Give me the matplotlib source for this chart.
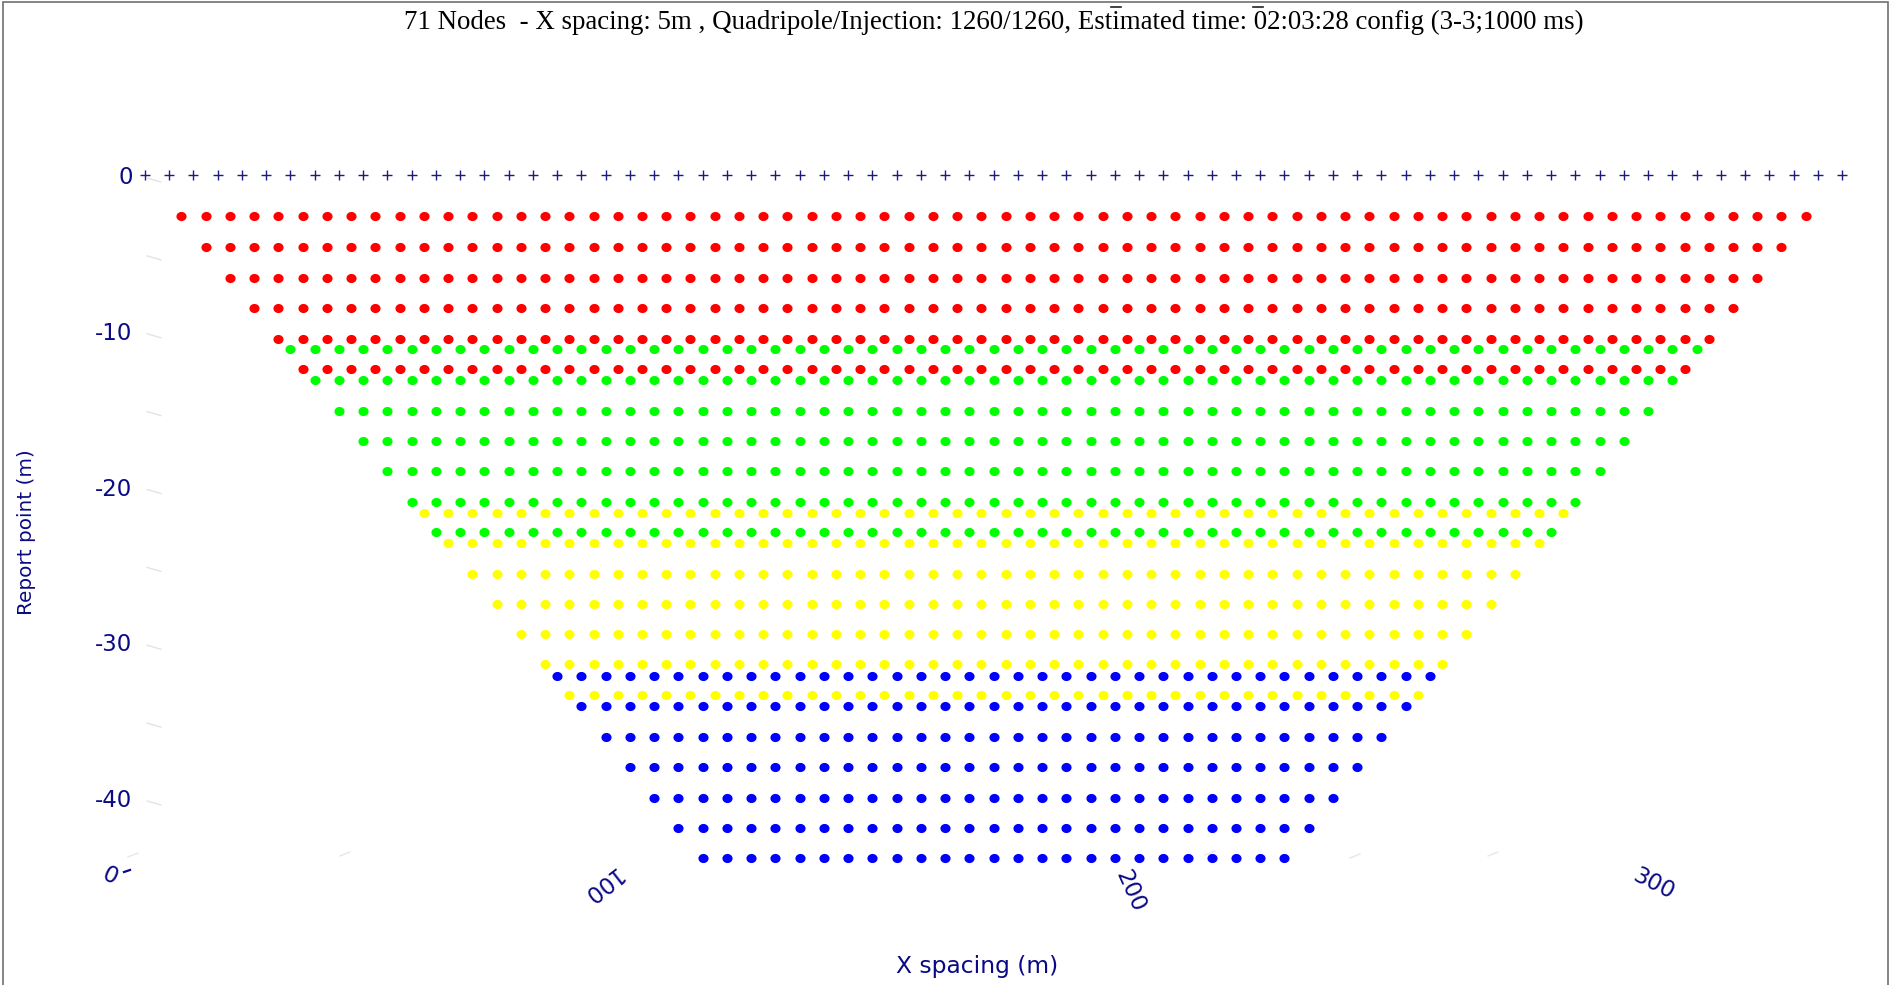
import numpy as np
import matplotlib
matplotlib.use("Agg")
import matplotlib.pyplot as plt
from matplotlib.path import Path
from matplotlib.lines import Line2D
from matplotlib.patches import Rectangle

# ---- survey layout -------------------------------------------------------
node_count = 71
node_spacing = 5.0          # m
node_x = np.arange(node_count) * node_spacing

# ---- pseudo-section report points, one entry per depth row -------------
red_depth = [2.65, 4.6, 6.6, 8.55, 10.5, 12.45]
red_start = [7.5, 12.5, 17.5, 22.5, 27.5, 32.5]
red_end = [342.5, 337.5, 332.5, 327.5, 322.5, 317.5]

green_depth = [11.2, 13.17, 15.13, 17.06, 19.0, 20.98, 22.92]
green_start = [30, 35, 40, 45, 50, 55, 60]
green_end = [320, 315, 310, 305, 300, 295, 290]

yellow_depth = [21.68, 23.61, 25.6, 27.54, 29.47, 31.4, 33.37]
yellow_start = [57.5, 62.5, 67.5, 72.5, 77.5, 82.5, 87.5]
yellow_end = [292.5, 287.5, 282.5, 277.5, 272.5, 267.5, 262.5]

blue_depth = [32.15, 34.1, 36.08, 38.03, 39.98, 41.93, 43.87]
blue_start = [85, 90, 95, 100, 105, 110, 115]
blue_end = [265, 260, 255, 250, 245, 240, 235]

y_ticks = [0, -10, -20, -30, -40]
x_tick_labels = ["0", "100", "200", "300"]

title = ("71 Nodes  - X spacing: 5m , Quadripole/Injection: 1260/1260, "
         "Estimated time: 02:03:28 config (3-3;1000 ms)")

NAVY = "#0a0a86"
W, H = 1892, 985

fig = plt.figure(figsize=(W / 100, H / 100), dpi=100)
ax = fig.add_axes([0.07151, 0.09497, 0.92775, 0.75898])
ax.set_xlim(-2, 360)
ax.set_ylim(-46, 2)
for s in ax.spines.values():
    s.set_visible(False)

# slightly flattened round marker
t = np.linspace(0, 2 * np.pi, 41)
dot = Path(np.column_stack([np.cos(t), 0.9 * np.sin(t)]), closed=True)

groups = [
    ("#ff0000", red_depth, red_start, red_end),
    ("#00ff00", green_depth, green_start, green_end),
    ("#ffff00", yellow_depth, yellow_start, yellow_end),
    ("#0000ff", blue_depth, blue_start, blue_end),
]
for color, depths, starts, ends in groups:
    for d, a, b in zip(depths, starts, ends):
        xs = np.arange(a, b + 0.01, node_spacing)
        ax.plot(xs, np.full(xs.shape, -d), linestyle="none", marker=dot,
                markersize=7.3, markerfacecolor=color, markeredgewidth=0,
                clip_on=False)

# electrodes
ax.plot(node_x, np.zeros_like(node_x), linestyle="none", marker="+",
        markersize=6.5, markeredgewidth=1.0, color="#1c1c80", clip_on=False)

ax.set_yticks(y_ticks)
ax.set_yticklabels([str(v) for v in y_ticks])
ax.tick_params(axis="y", length=0, pad=2.0, labelsize=16.5, labelcolor=NAVY)
ax.set_xticks([])

# skewed x tick labels of the tilted bottom axis (pixel positions)
def px(x, y):
    return x / W, 1 - y / H

xt_pos = [(110, 876), (600, 885), (1130, 891), (1654, 884)]
xt_rot = [-25, 218, -66, -27]
for lab, (x, y), r in zip(x_tick_labels, xt_pos, xt_rot):
    fig.text(*px(x, y), lab, rotation=r, rotation_mode="anchor",
             ha="center", va="center", fontsize=16.5, color=NAVY)
fig.add_artist(Line2D([124 / W, 130 / W], [1 - 872 / H, 1 - 870 / H],
                      color=NAVY, lw=1.6))

# faint axis ticks
for yy in range(0, -45, -5):
    yp = 175 - 15.575 * yy
    fig.add_artist(Line2D([147 / W, 161 / W], [1 - (yp + 3) / H, 1 - (yp + 7) / H],
                          color="#e4e4e4", lw=1.0))
for xx, yy in [(128, 857), (340, 856), (1205, 855), (1350, 858), (1488, 856)]:
    fig.add_artist(Line2D([xx / W, (xx + 10) / W], [1 - yy / H, 1 - (yy - 4) / H],
                          color="#e8e8e8", lw=1.0))

fig.text(*px(27, 532), "Report point (m)", rotation=90, ha="center", va="center",
         fontsize=14.4, color=NAVY)
fig.text(*px(977, 966), "X spacing (m)", ha="center", va="center",
         fontsize=16.8, color=NAVY)

fig.text(*px(994, 22), title, ha="center", va="center", fontsize=19.4,
         family="Liberation Serif", color="black")
for xc in (1116, 1258):
    fig.add_artist(Line2D([(xc - 5) / W, (xc + 5) / W], [1 - 7 / H, 1 - 7 / H],
                          color="#222222", lw=1.2))

# outer frame
fig.add_artist(Rectangle((3 / W, -0.05), (W - 7) / W, 1.05 - 1.5 / H,
                         transform=fig.transFigure, fill=False,
                         edgecolor="#707070", lw=1.2))

fig.savefig("out.png", dpi=100, facecolor="white")
